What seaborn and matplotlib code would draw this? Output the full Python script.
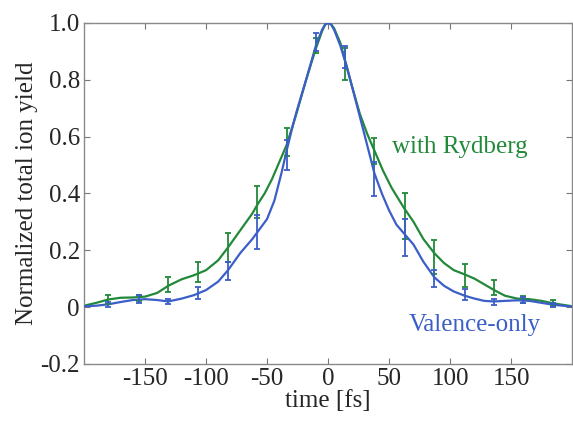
import matplotlib
matplotlib.use("Agg")
import matplotlib.pyplot as plt
import seaborn as sns
import pandas as pd

# smooth curves
green_t = [-200, -190, -180, -170, -160, -150, -140, -131, -120, -110, -100, -90, -82, -72, -62, -58, -52, -46,
           -40, -34, -26, -18, -10, -5, -2.5, 0, 2.5, 5, 10, 15, 20, 26, 32, 38, 45, 52, 62, 70, 78, 87, 95, 103,
           112, 120, 128, 136, 145, 155, 165, 175, 185, 200]
green_v = [0.005, 0.015, 0.027, 0.033, 0.034, 0.037, 0.05, 0.075, 0.098, 0.112, 0.13, 0.165, 0.21, 0.27, 0.33, 0.36,
           0.40, 0.45, 0.51, 0.57, 0.68, 0.80, 0.91, 0.97, 0.993, 1.0, 0.995, 0.98, 0.93, 0.85, 0.77, 0.68, 0.61, 0.55,
           0.48, 0.42, 0.35, 0.30, 0.24, 0.19, 0.155, 0.13, 0.115, 0.10, 0.08, 0.06, 0.04, 0.03, 0.028, 0.022, 0.013,
           0.003]

blue_t = [-200, -190, -180, -170, -160, -150, -140, -131, -120, -110, -100, -90, -82, -72, -62, -56, -50, -44,
          -38, -34, -30, -26, -18, -10, -5, -2.5, 0, 2.5, 5, 10, 15, 20, 26, 32, 38, 44, 50, 56, 63, 70, 78, 87,
          95, 103, 112, 120, 128, 136, 145, 155, 165, 175, 185, 200]
blue_v = [0.003, 0.005, 0.01, 0.018, 0.025, 0.028, 0.025, 0.02, 0.03, 0.042, 0.06, 0.09, 0.13, 0.19, 0.24, 0.275,
          0.31, 0.375, 0.475, 0.55, 0.62, 0.685, 0.80, 0.92, 0.975, 0.994, 1.0, 0.994, 0.975, 0.92, 0.85, 0.77,
          0.67, 0.57, 0.47, 0.40, 0.34, 0.29, 0.255, 0.22, 0.16, 0.105, 0.075, 0.055, 0.04, 0.03, 0.022, 0.02,
          0.022, 0.024, 0.022, 0.015, 0.008, 0.002]

# measured points with error bars
pts_t = [-180, -155, -131, -107, -82, -58, -34, -10, 14, 38, 63, 87, 112, 136, 160, 184]
green_pts = [0.027, 0.032, 0.08, 0.123, 0.21, 0.37, 0.58, 0.92, 0.855, 0.55, 0.32, 0.175, 0.11, 0.068, 0.028, 0.015]
green_err = [0.015, 0.012, 0.027, 0.035, 0.05, 0.055, 0.05, 0.027, 0.055, 0.045, 0.08, 0.06, 0.04, 0.027, 0.012, 0.01]
blue_pts = [0.01, 0.028, 0.02, 0.05, 0.126, 0.265, 0.535, 0.932, 0.88, 0.45, 0.245, 0.10, 0.045, 0.018, 0.025, 0.008]
blue_err = [0.008, 0.013, 0.01, 0.02, 0.032, 0.06, 0.053, 0.032, 0.04, 0.06, 0.065, 0.03, 0.02, 0.012, 0.012, 0.008]

x_ticks = [-150, -100, -50, 0, 50, 100, 150]
y_ticks = [-0.2, 0, 0.2, 0.4, 0.6, 0.8, 1.0]
y_tick_labels = ["-0.2", "0", "0.2", "0.4", "0.6", "0.8", "1.0"]

GREEN = "#23893a"
BLUE = "#3b5ec8"

sns.set_theme(style="ticks")
plt.rcParams["font.family"] = ["Liberation Serif", "DejaVu Serif"]
plt.rcParams["axes.unicode_minus"] = False

fig = plt.figure(figsize=(5.73, 4.23), dpi=100)
ax = fig.add_axes([0.1466, 0.1395, 0.852, 0.8065])

dg = pd.DataFrame({"t": green_t, "v": green_v})
db = pd.DataFrame({"t": blue_t, "v": blue_v})
sns.lineplot(data=db, x="t", y="v", ax=ax, color=BLUE, lw=1.6, sort=False, zorder=3)
sns.lineplot(data=dg, x="t", y="v", ax=ax, color=GREEN, lw=1.6, sort=False, zorder=2)

ax.errorbar(pts_t, green_pts, yerr=green_err, fmt="none", ecolor=GREEN, elinewidth=1.3,
            capsize=2.5, capthick=1.3, zorder=4)
ax.errorbar(pts_t, blue_pts, yerr=blue_err, fmt="none", ecolor=BLUE, elinewidth=1.3,
            capsize=2.5, capthick=1.3, zorder=5)

ax.set_xlim(-200, 200)
ax.set_ylim(-0.2, 1.0)
ax.set_xticks(x_ticks)
ax.set_xticklabels([str(v) for v in x_ticks])
ax.set_yticks(y_ticks)
ax.set_yticklabels(y_tick_labels)
ax.tick_params(direction="in", top=True, right=True, length=4, width=0.8, color="#777777",
               labelsize=18, pad=3)
for s in ax.spines.values():
    s.set_color("#8a8a8a")
    s.set_linewidth(1.0)

ax.set_xlabel("time [fs]", fontsize=18, labelpad=0)
ax.set_ylabel("Normalized total ion yield", fontsize=18, labelpad=2)

ax.text(52, 0.562, "with Rydberg", color=GREEN, fontsize=18, va="center", ha="left")
ax.text(66, -0.064, "Valence-only", color=BLUE, fontsize=18, va="center", ha="left")

fig.savefig("out.png", dpi=100)
